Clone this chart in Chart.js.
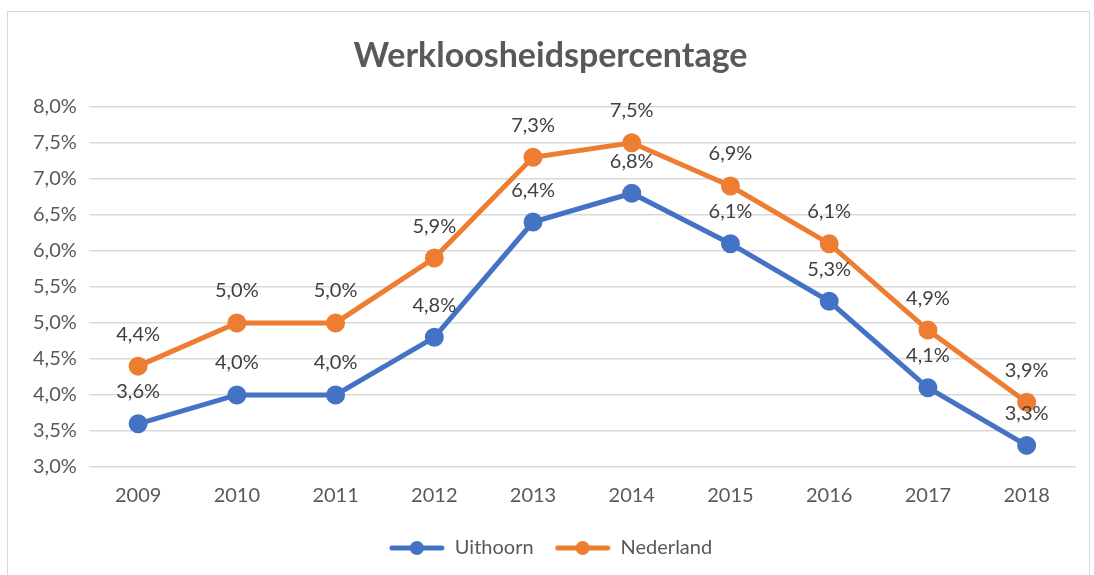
<!DOCTYPE html>
<html>
<head>
<meta charset="utf-8">
<script src="https://cdn.jsdelivr.net/npm/chart.js@4/dist/chart.umd.min.js"></script>
<style>
  html, body { margin: 0; padding: 0; background: #fff; overflow: hidden; }
  #frame {
    position: absolute; left: 7px; top: 11px;
    width: 1083px; height: 600px;
    border: 1.5px solid #d9d9d9;
    box-sizing: border-box;
  }
  #wrap { position: absolute; left: 0; top: 0; width: 1080px; height: 562px; }
</style>
</head>
<body>
<div id="frame"><div id="wrap"><canvas id="chart"></canvas></div></div>
<script>
// Data
const years = ['2009', '2010', '2011', '2012', '2013', '2014', '2015', '2016', '2017', '2018'];
const uithoorn = [3.6, 4.0, 4.0, 4.8, 6.4, 6.8, 6.1, 5.3, 4.1, 3.3];
const nederland = [4.4, 5.0, 5.0, 5.9, 7.3, 7.5, 6.9, 6.1, 4.9, 3.9];

const BLUE = '#4472C4';
const ORANGE = '#ED7D31';
const TEXT = '#595959';
const FONT = 'Lato, "Open Sans", sans-serif';

const pct = v => v.toFixed(1).replace('.', ',') + '%';

// legend marker: short line with a dot in the middle
function legendMarker(color) {
    const c = document.createElement('canvas');
    c.width = 56; c.height = 16;
    const ctx = c.getContext('2d');
    ctx.strokeStyle = color;
    ctx.lineWidth = 5;
    ctx.lineCap = 'round';
    ctx.beginPath();
    ctx.moveTo(3, 8); ctx.lineTo(53, 8);
    ctx.stroke();
    ctx.fillStyle = color;
    ctx.beginPath();
    ctx.arc(28, 8, 7, 0, Math.PI * 2);
    ctx.fill();
    return c;
}
const markers = [legendMarker(BLUE), legendMarker(ORANGE)];

// value labels above each point
const valueLabels = {
    id: 'valueLabels',
    afterDatasetsDraw(chart) {
        const ctx = chart.ctx;
        ctx.save();
        ctx.font = '20px ' + FONT;
        ctx.fillStyle = '#404040';
        ctx.textAlign = 'center';
        ctx.textBaseline = 'middle';
        chart.data.datasets.forEach((ds, i) => {
            const meta = chart.getDatasetMeta(i);
            meta.data.forEach((pt, j) => {
                ctx.fillText(pct(ds.data[j]), pt.x, pt.y - 32);
            });
        });
        ctx.restore();
    }
};

new Chart(document.getElementById('chart'), {
    type: 'line',
    data: {
        labels: years,
        datasets: [{
            label: 'Uithoorn',
            data: uithoorn,
            borderColor: BLUE,
            backgroundColor: BLUE,
            borderWidth: 5,
            pointRadius: 7,
            pointHoverRadius: 7,
            tension: 0
        }, {
            label: 'Nederland',
            data: nederland,
            borderColor: ORANGE,
            backgroundColor: ORANGE,
            borderWidth: 5,
            pointRadius: 7,
            pointHoverRadius: 7,
            tension: 0
        }]
    },
    options: {
        responsive: true,
        maintainAspectRatio: false,
        animation: false,
        layout: { padding: { left: 13, right: 8, top: 0, bottom: 6 } },
        scales: {
            x: {
                offset: true,
                grid: { display: false },
                border: { display: false },
                ticks: { color: TEXT, font: { family: FONT, size: 20 }, padding: 9 }
            },
            y: {
                min: 3,
                max: 8,
                ticks: {
                    stepSize: 0.5,
                    color: TEXT,
                    font: { family: FONT, size: 20 },
                    padding: 12,
                    callback: v => pct(v)
                },
                grid: { color: '#d9d9d9', lineWidth: 1.5, drawTicks: false },
                border: { display: false }
            }
        },
        plugins: {
            title: {
                display: true,
                text: 'Werkloosheidspercentage',
                color: TEXT,
                font: { family: FONT, size: 34, weight: 'bold' },
                padding: { top: 24, bottom: 30 }
            },
            legend: {
                position: 'bottom',
                labels: {
                    color: TEXT,
                    font: { family: FONT, size: 20 },
                    usePointStyle: true,
                    pointStyleWidth: 56,
                    padding: 21,
                    generateLabels(chart) {
                        return chart.data.datasets.map((ds, i) => ({
                            text: ds.label,
                            fontColor: TEXT,
                            pointStyle: markers[i],
                            datasetIndex: i,
                            lineWidth: 0,
                            strokeStyle: 'transparent',
                            fillStyle: ds.borderColor
                        }));
                    }
                }
            },
            tooltip: { enabled: false }
        }
    },
    plugins: [valueLabels]
});
</script>
</body>
</html>
